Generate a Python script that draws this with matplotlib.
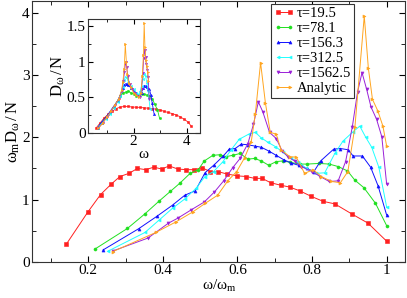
import matplotlib
matplotlib.use('Agg')
import matplotlib.pyplot as plt
from matplotlib.ticker import MultipleLocator, FormatStrFormatter

plt.rcParams['font.family'] = ['Liberation Serif', 'DejaVu Serif']
plt.rcParams['mathtext.fontset'] = 'custom'
plt.rcParams['mathtext.rm'] = 'Liberation Serif'
plt.rcParams['mathtext.it'] = 'Liberation Serif'

# main panel: omega/omega_m vs omega_m D_omega / N
red_x = [0.141, 0.199, 0.233, 0.262, 0.285, 0.309, 0.332, 0.354, 0.376, 0.397, 0.417, 0.440, 0.462,
         0.483, 0.505, 0.527, 0.547, 0.572, 0.600, 0.623, 0.646, 0.666, 0.689, 0.716, 0.740, 0.767,
         0.798, 0.830, 0.861, 0.906, 0.950, 1.0]
red_y = [0.28, 0.80, 1.08, 1.25, 1.37, 1.42, 1.50, 1.48, 1.52, 1.49, 1.54, 1.49, 1.48,
         1.48, 1.51, 1.45, 1.45, 1.41, 1.38, 1.37, 1.34, 1.34, 1.27, 1.23, 1.20, 1.14,
         1.05, 0.97, 0.93, 0.77, 0.62, 0.33]

green_x = [0.217, 0.305, 0.352, 0.39, 0.42, 0.447, 0.473, 0.495, 0.511, 0.534, 0.552, 0.570, 0.587,
           0.607, 0.628, 0.646, 0.664, 0.684, 0.704, 0.722, 0.740, 0.767, 0.786, 0.819, 0.846, 0.870,
           0.895, 0.915, 0.939, 0.970, 1.0]
green_y = [0.20, 0.535, 0.77, 0.975, 1.13, 1.27, 1.42, 1.48, 1.62, 1.71, 1.72, 1.69, 1.71,
           1.74, 1.65, 1.66, 1.62, 1.55, 1.61, 1.62, 1.60, 1.57, 1.57, 1.58, 1.57, 1.53,
           1.46, 1.31, 1.19, 0.94, 0.58]

blue_x = [0.24, 0.335, 0.384, 0.426, 0.459, 0.487, 0.513, 0.538, 0.562, 0.578, 0.594, 0.610, 0.628,
          0.646, 0.664, 0.684, 0.704, 0.724, 0.743, 0.764, 0.786, 0.805, 0.823, 0.858, 0.876, 0.897,
          0.910, 0.935, 0.957, 0.977, 1.0]
blue_y = [0.19, 0.53, 0.73, 0.91, 1.07, 1.14, 1.43, 1.56, 1.70, 1.81, 1.82, 1.89, 1.88,
          1.86, 1.84, 1.78, 1.71, 1.64, 1.59, 1.55, 1.50, 1.45, 1.62, 1.81, 1.82, 1.80,
          1.70, 1.70, 1.52, 1.22, 0.75]

cyan_x = [0.253, 0.352, 0.39, 0.426, 0.459, 0.489, 0.513, 0.536, 0.560, 0.583, 0.605, 0.630, 0.648,
          0.664, 0.682, 0.702, 0.722, 0.743, 0.762, 0.785, 0.81, 0.834, 0.861, 0.883, 0.91, 0.928,
          0.944, 0.96, 0.979, 1.0]
cyan_y = [0.17, 0.47, 0.67, 0.86, 1.01, 1.18, 1.37, 1.45, 1.60, 1.80, 1.97, 2.05, 2.08,
          1.99, 1.92, 1.85, 1.76, 1.66, 1.61, 1.50, 1.42, 1.43, 1.74, 1.94, 2.09, 2.18,
          2.00, 1.84, 1.52, 0.88]

purple_x = [0.265, 0.36, 0.415, 0.44, 0.475, 0.511, 0.538, 0.563, 0.587, 0.607, 0.628, 0.643, 0.656,
            0.668, 0.686, 0.704, 0.72, 0.735, 0.753, 0.771, 0.80, 0.822, 0.846, 0.87, 0.89, 0.908,
            0.922, 0.934, 0.946, 0.958, 0.973, 0.987, 1.0]
purple_y = [0.17, 0.38, 0.62, 0.70, 0.83, 0.96, 1.12, 1.30, 1.51, 1.66, 1.90, 2.21, 2.57,
            2.41, 2.08, 1.98, 1.78, 1.69, 1.62, 1.53, 1.45, 1.37, 1.29, 1.30, 1.61, 2.17,
            2.73, 3.04, 2.78, 2.49, 2.29, 2.01, 1.25]

orange_x = [0.265, 0.381, 0.435, 0.48, 0.514, 0.547, 0.574, 0.598, 0.619, 0.637, 0.648, 0.662, 0.675,
            0.688, 0.704, 0.717, 0.74, 0.758, 0.78, 0.803, 0.825, 0.852, 0.876, 0.896, 0.915, 0.94,
            0.951, 0.962, 0.976, 0.99, 1.0]
orange_y = [0.16, 0.47, 0.64, 0.80, 0.94, 1.07, 1.30, 1.45, 1.67, 1.93, 2.38, 3.20, 2.55,
            2.08, 2.05, 1.80, 1.69, 1.68, 1.42, 1.48, 1.37, 1.29, 1.27, 1.45, 2.17, 3.95,
            3.11, 2.61, 2.43, 2.18, 1.86]

# inset: omega vs D_omega / N
red_w = [0.6, 0.75, 0.9, 1.05, 1.2, 1.35, 1.5, 1.65, 1.8, 1.95, 2.1, 2.25, 2.4, 2.55, 2.7, 2.85,
         3.0, 3.15, 3.3, 3.45, 3.6, 3.75, 3.9, 4.05, 4.17]
red_d = [0.07, 0.14, 0.21, 0.26, 0.30, 0.34, 0.36, 0.37, 0.37, 0.36, 0.36, 0.355, 0.35, 0.345,
         0.34, 0.33, 0.32, 0.30, 0.285, 0.27, 0.25, 0.225, 0.19, 0.15, 0.09]

green_w = [0.65, 0.8, 0.95, 1.1, 1.25, 1.4, 1.5, 1.6, 1.7, 1.8, 1.9, 2.0, 2.1, 2.2, 2.3, 2.4, 2.5,
           2.6, 2.7, 2.8, 2.9, 2.98]
green_d = [0.07, 0.14, 0.21, 0.28, 0.36, 0.45, 0.52, 0.56, 0.57, 0.59, 0.56, 0.55, 0.52, 0.53,
           0.54, 0.54, 0.53, 0.52, 0.48, 0.40, 0.32, 0.2]

blue_w = [0.65, 0.8, 0.95, 1.1, 1.25, 1.4, 1.5, 1.6, 1.65, 1.7, 1.75, 1.8, 1.9, 2.0, 2.1, 2.2,
          2.3, 2.35, 2.4, 2.45, 2.5, 2.55, 2.6, 2.65, 2.7, 2.77]
blue_d = [0.07, 0.15, 0.21, 0.29, 0.37, 0.45, 0.53, 0.63, 0.67, 0.69, 0.68, 0.67, 0.63, 0.59,
          0.56, 0.52, 0.56, 0.63, 0.66, 0.66, 0.65, 0.61, 0.61, 0.53, 0.42, 0.27]

cyan_w = [0.65, 0.8, 0.95, 1.1, 1.25, 1.4, 1.5, 1.6, 1.65, 1.7, 1.75, 1.8, 1.9, 2.0, 2.1, 2.2,
          2.25, 2.3, 2.35, 2.4, 2.45, 2.5, 2.55, 2.62]
cyan_d = [0.06, 0.13, 0.19, 0.26, 0.35, 0.43, 0.52, 0.65, 0.74, 0.79, 0.77, 0.72, 0.66, 0.61,
          0.56, 0.54, 0.58, 0.66, 0.75, 0.82, 0.80, 0.70, 0.58, 0.34]

purple_w = [0.68, 0.85, 1.0, 1.15, 1.3, 1.45, 1.55, 1.62, 1.66, 1.7, 1.74, 1.78, 1.85, 1.95,
            2.05, 2.15, 2.25, 2.3, 2.35, 2.38, 2.42, 2.45, 2.48, 2.52, 2.55, 2.59]
purple_d = [0.065, 0.14, 0.22, 0.30, 0.39, 0.47, 0.58, 0.73, 0.86, 0.99, 0.93, 0.80, 0.68, 0.62,
            0.56, 0.52, 0.50, 0.62, 0.84, 1.05, 1.17, 1.07, 0.96, 0.88, 0.78, 0.48]

orange_w = [0.68, 0.85, 1.0, 1.15, 1.3, 1.45, 1.55, 1.6, 1.65, 1.69, 1.73, 1.77, 1.82, 1.9,
            2.0, 2.1, 2.2, 2.28, 2.33, 2.37, 2.4, 2.43, 2.46, 2.5, 2.53, 2.56]
orange_d = [0.06, 0.14, 0.22, 0.30, 0.39, 0.48, 0.60, 0.72, 0.90, 1.25, 1.00, 0.82, 0.70, 0.64,
            0.56, 0.53, 0.50, 0.56, 0.80, 1.10, 1.54, 1.20, 1.03, 0.94, 0.85, 0.73]

labels = ['τ=19.5', 'τ=78.1', 'τ=156.3', 'τ=312.5', 'τ=1562.5', 'Analytic']
colors = ['#ff2020', '#20e020', '#1010ff', '#20ffff', '#9a20d8', '#ffa520']
markers = ['s', 'o', '^', '<', 'v', '>']

main_series = [(red_x, red_y), (green_x, green_y), (blue_x, blue_y),
               (cyan_x, cyan_y), (purple_x, purple_y), (orange_x, orange_y)]
inset_series = [(red_w, red_d), (green_w, green_d), (blue_w, blue_d),
                (cyan_w, cyan_d), (purple_w, purple_d), (orange_w, orange_d)]

fig = plt.figure(figsize=(4.07, 2.98), dpi=100)
ax = fig.add_axes([0.0794, 0.1218, 0.9164, 0.8765])

for (xs, ys), lab, c, m in zip(main_series, labels, colors, markers):
    ax.plot(xs, ys, color=c, marker=m, markersize=2.2, markeredgewidth=0.4,
            linewidth=0.7, label=lab)

ax.set_xlim(0.05, 1.05)
ax.set_ylim(0, 4.2)
ax.xaxis.set_major_locator(MultipleLocator(0.2))
ax.xaxis.set_minor_locator(MultipleLocator(0.1))
ax.yaxis.set_major_locator(MultipleLocator(1))
ax.yaxis.set_minor_locator(MultipleLocator(0.5))
ax.xaxis.set_major_formatter(FormatStrFormatter('%g'))
ax.yaxis.set_major_formatter(FormatStrFormatter('%g'))
ax.tick_params(which='both', direction='in', top=True, right=True, labelsize=11, pad=2)
ax.tick_params(which='major', length=4)
ax.tick_params(which='minor', length=3)
for s in ax.spines.values():
    s.set_linewidth(0.8)
    s.set_color('#333333')
ax.set_xlabel(r'$\omega/\omega_{m}$', fontsize=11, labelpad=0)
ax.set_ylabel(r'$\omega_{m}D_{\omega}\,/\,N$', fontsize=12, labelpad=0)

leg = ax.legend(loc='upper left', bbox_to_anchor=(0.639, 0.986), borderaxespad=0,
                fontsize=10.5, numpoints=2, handlelength=1.4, handletextpad=0.2,
                labelspacing=0.12, borderpad=0.2, fancybox=False, framealpha=1,
                edgecolor='#333333')
leg.get_frame().set_linewidth(0.8)

# inset
axi = fig.add_axes([0.217, 0.5547, 0.2745, 0.3815])
for (xs, ys), c, m in zip(inset_series, colors, markers):
    axi.plot(xs, ys, color=c, marker=m, markersize=1.6, markeredgewidth=0.4, linewidth=0.6)
axi.set_xlim(0.3, 4.5)
axi.set_ylim(0, 1.6)
axi.xaxis.set_major_locator(MultipleLocator(2))
axi.xaxis.set_minor_locator(MultipleLocator(1))
axi.yaxis.set_major_locator(MultipleLocator(0.5))
axi.yaxis.set_minor_locator(MultipleLocator(0.25))
axi.xaxis.set_major_formatter(FormatStrFormatter('%g'))
axi.yaxis.set_major_formatter(FormatStrFormatter('%g'))
axi.tick_params(which='both', direction='in', top=True, right=True, labelsize=11, pad=2)
axi.tick_params(which='major', length=3.5)
axi.tick_params(which='minor', length=2.5)
for s in axi.spines.values():
    s.set_linewidth(0.8)
    s.set_color('#333333')
axi.set_xlabel(r'$\omega$', fontsize=11, labelpad=0)
axi.set_ylabel(r'$D_{\omega}\,/\,N$', fontsize=12, labelpad=0)

fig.savefig('out.png', dpi=100)
